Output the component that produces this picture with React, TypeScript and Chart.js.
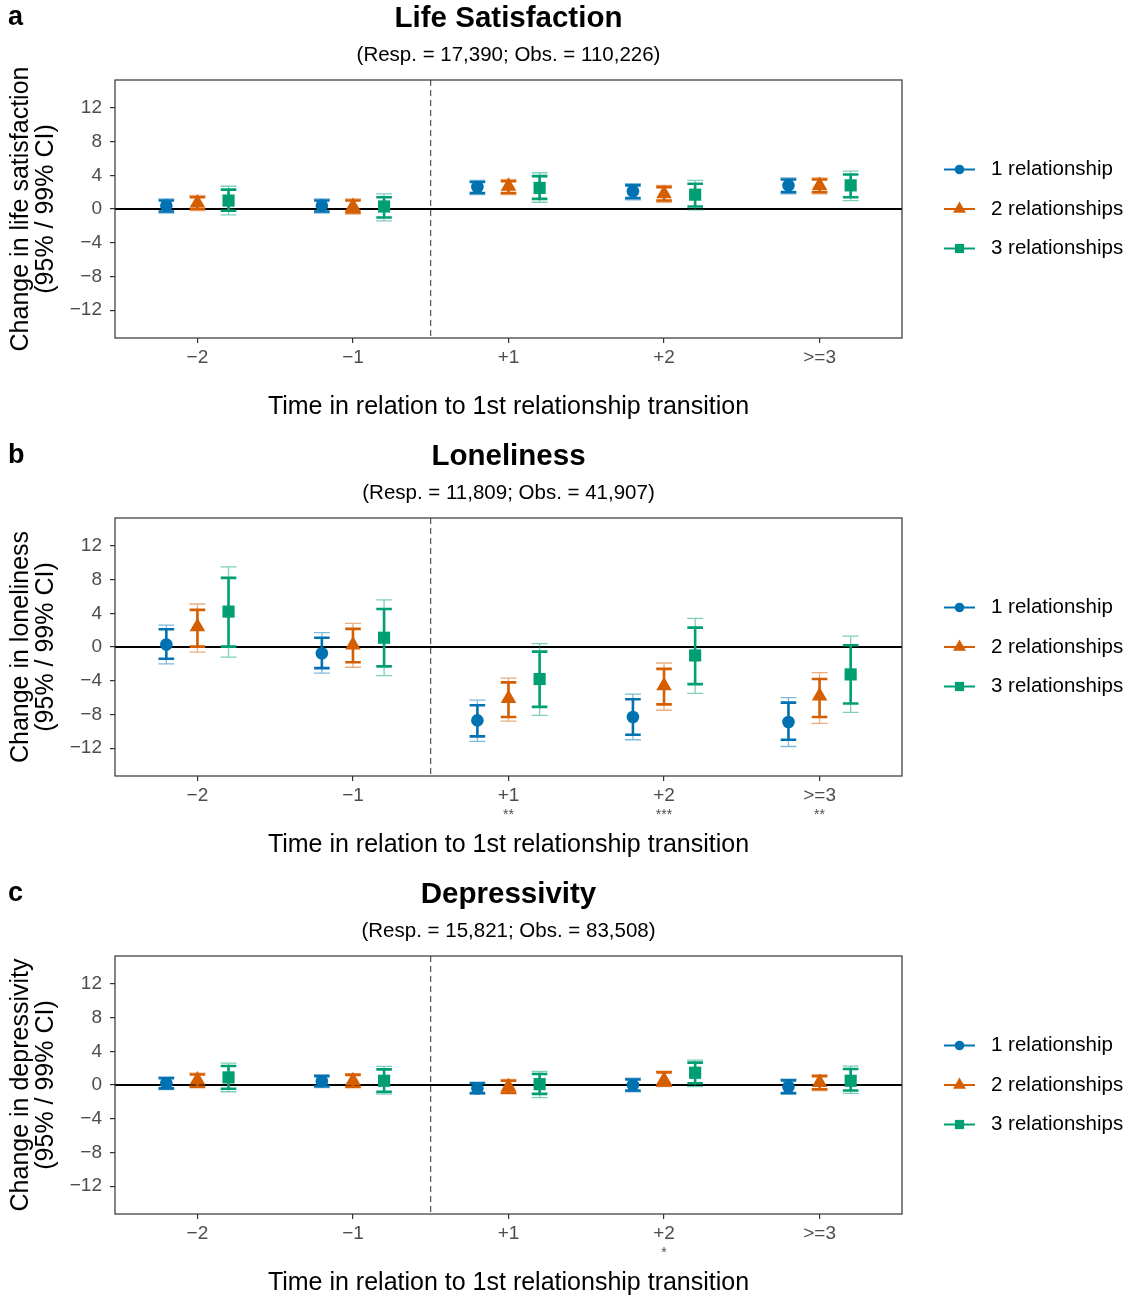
import React, { useEffect, useRef } from "react";
import { Chart, registerables } from "chart.js";
Chart.register(...registerables);

const CATEGORIES = ["\u22122", "\u22121", "+1", "+2", ">=3"];
const SERIES = ["1 relationship", "2 relationships", "3 relationships"];
const COLORS = ["#0072B2", "#D55E00", "#009E73"];
const POINT_STYLES = ["circle", "triangle", "rect"];
const POINT_RADII = [6.3, 9, 8.6];
const DODGE = [-0.2, 0, 0.2];
const Y_TICKS = [-12, -8, -4, 0, 4, 8, 12];
const X_TITLE = "Time in relation to 1st relationship transition";

// Panel a: Life satisfaction (rows: 1, 2, 3 relationships)
const lifeEst = [[0.4, 0.4, 2.6, 2.1, 2.8], [0.7, 0.3, 2.7, 1.8, 2.8], [1.0, 0.3, 2.5, 1.7, 2.8]];
const lifeLo95 = [[-0.3, -0.3, 1.9, 1.3, 2.0], [0.0, -0.4, 1.9, 1.0, 2.0], [-0.2, -1.0, 1.2, 0.3, 1.4]];
const lifeHi95 = [[1.0, 1.0, 3.2, 2.8, 3.5], [1.4, 1.0, 3.3, 2.6, 3.5], [2.3, 1.4, 3.9, 3.0, 4.1]];
const lifeLo99 = [[-0.5, -0.5, 1.7, 1.1, 1.8], [-0.2, -0.6, 1.7, 0.8, 1.8], [-0.7, -1.4, 0.8, -0.1, 1.0]];
const lifeHi99 = [[1.2, 1.2, 3.4, 3.0, 3.7], [1.6, 1.2, 3.5, 2.8, 3.7], [2.7, 1.8, 4.3, 3.4, 4.5]];
const lifeStars = ["", "", "", "", ""];

// Panel b: Loneliness
const lonEst = [[0.3, -0.75, -8.7, -8.3, -8.9], [2.4, 0.25, -6.1, -4.6, -5.8], [4.2, 1.1, -3.8, -1.0, -3.25]];
const lonLo95 = [[-1.4, -2.5, -10.6, -10.4, -11.0], [0.05, -1.8, -8.3, -6.8, -8.3], [0.05, -2.3, -7.1, -4.4, -6.7]];
const lonHi95 = [[2.1, 1.1, -6.9, -6.2, -6.6], [4.4, 2.15, -4.2, -2.6, -3.8], [8.2, 4.5, -0.55, 2.3, 0.2]];
const lonLo99 = [[-2.0, -3.1, -11.2, -11.0, -11.8], [-0.6, -2.4, -8.8, -7.5, -9.05], [-1.2, -3.4, -8.1, -5.5, -7.75]];
const lonHi99 = [[2.6, 1.7, -6.3, -5.6, -6.0], [5.1, 2.8, -3.7, -1.9, -3.05], [9.5, 5.6, 0.4, 3.4, 1.3]];
const lonStars = ["", "", "**", "***", "**"];

// Panel c: Depressivity
const depEst = [[0.2, 0.45, -0.4, 0.0, -0.2], [0.6, 0.5, -0.2, 0.6, 0.3], [0.9, 0.5, 0.1, 1.45, 0.5]];
const depLo95 = [[-0.4, -0.15, -0.95, -0.65, -0.95], [-0.2, -0.2, -0.9, -0.05, -0.5], [-0.45, -0.8, -1.05, 0.2, -0.65]];
const depHi95 = [[0.8, 1.05, 0.2, 0.65, 0.55], [1.25, 1.2, 0.5, 1.5, 1.05], [2.25, 1.85, 1.3, 2.65, 1.9]];
const depLo99 = [[-0.55, -0.3, -1.1, -0.8, -1.1], [-0.35, -0.35, -1.05, -0.2, -0.65], [-0.8, -1.07, -1.5, -0.2, -1.0]];
const depHi99 = [[0.95, 1.2, 0.35, 0.8, 0.7], [1.4, 1.35, 0.65, 1.65, 1.2], [2.6, 2.2, 1.6, 2.95, 2.25]];
const depStars = ["", "", "", "*", ""];

const FONT = "'Liberation Sans', Arial, Helvetica, sans-serif";

type PanelProps = {
  top: number;
  height: number;
  letter: string;
  title: string;
  subtitle: string;
  yTitle: string[];
  est: number[][];
  lo95: number[][];
  hi95: number[][];
  lo99: number[][];
  hi99: number[][];
  stars: string[];
};

function drawMarker(ctx: CanvasRenderingContext2D, style: string, x: number, y: number, r: number) {
  ctx.beginPath();
  if (style === "circle") {
    ctx.arc(x, y, r, 0, Math.PI * 2);
  } else if (style === "triangle") {
    ctx.moveTo(x, y - r);
    ctx.lineTo(x + r * Math.sin(Math.PI / 3), y + r * 0.5);
    ctx.lineTo(x - r * Math.sin(Math.PI / 3), y + r * 0.5);
    ctx.closePath();
  } else {
    const s = r * Math.SQRT1_2;
    ctx.rect(x - s, y - s, 2 * s, 2 * s);
  }
  ctx.fill();
}

function Panel(p: PanelProps) {
  const ref = useRef<HTMLCanvasElement | null>(null);
  useEffect(() => {
    if (!ref.current) return;
    const plotBottom = 338;
    const decor = {
      id: "decor",
      beforeDatasetsDraw(chart: any) {
        const { ctx, chartArea: a, scales } = chart;
        const x = scales.x;
        const y = scales.y;
        ctx.save();
        // zero line
        const y0 = y.getPixelForValue(0);
        ctx.strokeStyle = "#000";
        ctx.lineWidth = 2;
        ctx.beginPath();
        ctx.moveTo(a.left, y0);
        ctx.lineTo(a.right, y0);
        ctx.stroke();
        // dashed separator
        const xd = x.getPixelForValue(1.5);
        ctx.strokeStyle = "#333";
        ctx.lineWidth = 1;
        ctx.setLineDash([6, 4]);
        ctx.beginPath();
        ctx.moveTo(xd, a.top);
        ctx.lineTo(xd, a.bottom);
        ctx.stroke();
        ctx.setLineDash([]);
        // error bars
        for (let s = 0; s < 3; s++) {
          ctx.strokeStyle = COLORS[s];
          for (let i = 0; i < CATEGORIES.length; i++) {
            const px = x.getPixelForValue(i + DODGE[s]);
            const l99 = y.getPixelForValue(p.lo99[s][i]);
            const h99 = y.getPixelForValue(p.hi99[s][i]);
            const l95 = y.getPixelForValue(p.lo95[s][i]);
            const h95 = y.getPixelForValue(p.hi95[s][i]);
            ctx.globalAlpha = 0.5;
            ctx.lineWidth = 1.3;
            ctx.beginPath();
            ctx.moveTo(px, l99);
            ctx.lineTo(px, h99);
            ctx.moveTo(px - 8, l99);
            ctx.lineTo(px + 8, l99);
            ctx.moveTo(px - 8, h99);
            ctx.lineTo(px + 8, h99);
            ctx.stroke();
            ctx.globalAlpha = 1;
            ctx.lineWidth = 2.6;
            ctx.beginPath();
            ctx.moveTo(px, l95);
            ctx.lineTo(px, h95);
            ctx.moveTo(px - 7.8, l95);
            ctx.lineTo(px + 7.8, l95);
            ctx.moveTo(px - 7.8, h95);
            ctx.lineTo(px + 7.8, h95);
            ctx.stroke();
          }
        }
        ctx.restore();
      },
      afterDraw(chart: any) {
        const { ctx, chartArea: a, scales } = chart;
        const x = scales.x;
        const cx = (a.left + a.right) / 2;
        const cy = (a.top + a.bottom) / 2;
        ctx.save();
        // border
        ctx.strokeStyle = "#333";
        ctx.lineWidth = 1.2;
        ctx.strokeRect(a.left, a.top, a.right - a.left, a.bottom - a.top);
        ctx.fillStyle = "#000";
        ctx.textBaseline = "middle";
        // panel letter
        ctx.textAlign = "left";
        ctx.font = `bold 27px ${FONT}`;
        ctx.fillText(p.letter, 8, 18);
        // title
        ctx.textAlign = "center";
        ctx.font = `bold 29.5px ${FONT}`;
        ctx.fillText(p.title, cx, 19);
        ctx.font = `20.5px ${FONT}`;
        ctx.fillText(p.subtitle, cx, 55);
        // x title
        ctx.font = `25px ${FONT}`;
        ctx.fillText(X_TITLE, cx, 407);
        // y title
        ctx.save();
        ctx.translate(21, cy);
        ctx.rotate(-Math.PI / 2);
        ctx.font = `25px ${FONT}`;
        ctx.fillText(p.yTitle[0], 0, 0);
        ctx.restore();
        ctx.save();
        ctx.translate(46, cy);
        ctx.rotate(-Math.PI / 2);
        ctx.font = `25px ${FONT}`;
        ctx.fillText(p.yTitle[1], 0, 0);
        ctx.restore();
        // stars
        ctx.fillStyle = "#4d4d4d";
        ctx.font = `14px ${FONT}`;
        for (let i = 0; i < p.stars.length; i++) {
          if (p.stars[i]) ctx.fillText(p.stars[i], x.getPixelForValue(i), 377);
        }
        // legend
        for (let s = 0; s < 3; s++) {
          const ly = cy + (s - 1) * 39.5;
          ctx.strokeStyle = COLORS[s];
          ctx.fillStyle = COLORS[s];
          ctx.lineWidth = 2;
          ctx.beginPath();
          ctx.moveTo(944, ly);
          ctx.lineTo(975, ly);
          ctx.stroke();
          drawMarker(ctx, POINT_STYLES[s], 959.5, ly, [4.8, 7.5, 6.5][s]);
          ctx.fillStyle = "#000";
          ctx.textAlign = "left";
          ctx.font = `20.5px ${FONT}`;
          ctx.fillText(SERIES[s], 991, ly);
        }
        ctx.restore();
      },
    };

    const datasets = SERIES.map((name, s) => ({
      label: name,
      data: p.est[s].map((v, i) => ({ x: i + DODGE[s], y: v })),
      backgroundColor: COLORS[s],
      borderColor: COLORS[s],
      pointStyle: POINT_STYLES[s] as any,
      pointRadius: POINT_RADII[s],
      pointBorderWidth: 0,
      showLine: false,
    }));

    const chart = new Chart(ref.current, {
      type: "scatter",
      data: { datasets },
      plugins: [decor],
      options: {
        animation: false,
        responsive: false,
        events: [],
        layout: { padding: { top: 80, right: 228, left: 0, bottom: 0 } },
        plugins: { legend: { display: false }, title: { display: false }, tooltip: { enabled: false } },
        scales: {
          x: {
            type: "linear",
            min: -0.53,
            max: 4.53,
            afterBuildTicks: (sc: any) => {
              sc.ticks = CATEGORIES.map((_, i) => ({ value: i }));
            },
            afterFit: (sc: any) => {
              sc.height = p.height - plotBottom;
            },
            ticks: {
              callback: (v: any) => CATEGORIES[Math.round(v)] ?? "",
              color: "#4d4d4d",
              font: { family: FONT, size: 19 },
              padding: 3,
              autoSkip: false,
              maxRotation: 0,
            },
            grid: { drawOnChartArea: false, drawTicks: true, tickLength: 5, color: "#333", lineWidth: 1.2 },
            border: { display: false },
          },
          y: {
            min: -15.3,
            max: 15.3,
            afterBuildTicks: (sc: any) => {
              sc.ticks = Y_TICKS.map((v) => ({ value: v }));
            },
            afterFit: (sc: any) => {
              sc.width = 115;
            },
            ticks: {
              callback: (v: any) => (v < 0 ? "\u2212" + Math.abs(v) : String(v)),
              color: "#4d4d4d",
              font: { family: FONT, size: 19 },
              padding: 8,
            },
            grid: { drawOnChartArea: false, drawTicks: true, tickLength: 5, color: "#333", lineWidth: 1.2 },
            border: { display: false },
          },
        },
      },
    });
    return () => chart.destroy();
  }, []);

  return (
    <canvas
      ref={ref}
      width={1130}
      height={p.height}
      style={{ position: "absolute", left: 0, top: p.top, width: 1130, height: p.height }}
    />
  );
}

export default function App() {
  return (
    <div style={{ position: "absolute", left: 0, top: 0, width: 1130, height: 1298, background: "#fff", overflow: "hidden" }}>
      <Panel
        top={0}
        height={438}
        letter="a"
        title="Life Satisfaction"
        subtitle="(Resp. = 17,390; Obs. = 110,226)"
        yTitle={["Change in life satisfaction", "(95% / 99% CI)"]}
        est={lifeEst}
        lo95={lifeLo95}
        hi95={lifeHi95}
        lo99={lifeLo99}
        hi99={lifeHi99}
        stars={lifeStars}
      />
      <Panel
        top={438}
        height={438}
        letter="b"
        title="Loneliness"
        subtitle="(Resp. = 11,809; Obs. = 41,907)"
        yTitle={["Change in loneliness", "(95% / 99% CI)"]}
        est={lonEst}
        lo95={lonLo95}
        hi95={lonHi95}
        lo99={lonLo99}
        hi99={lonHi99}
        stars={lonStars}
      />
      <Panel
        top={876}
        height={422}
        letter="c"
        title="Depressivity"
        subtitle="(Resp. = 15,821; Obs. = 83,508)"
        yTitle={["Change in depressivity", "(95% / 99% CI)"]}
        est={depEst}
        lo95={depLo95}
        hi95={depHi95}
        lo99={depLo99}
        hi99={depHi99}
        stars={depStars}
      />
    </div>
  );
}
